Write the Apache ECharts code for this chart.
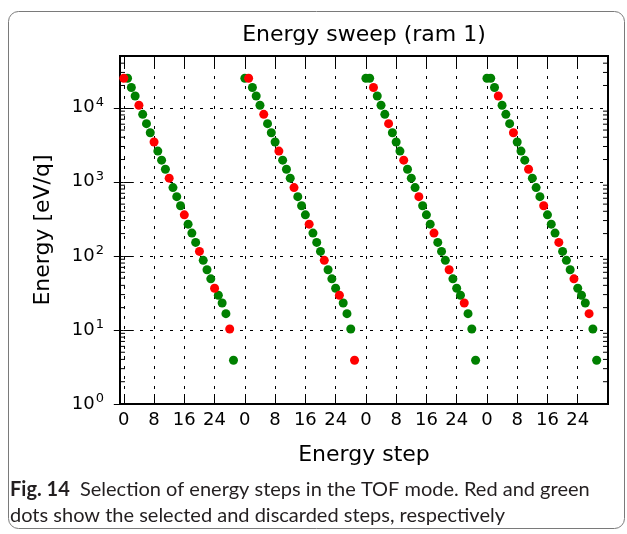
<!DOCTYPE html>
<html>
<head>
<meta charset="utf-8">
<script src="https://cdn.jsdelivr.net/npm/echarts@6/dist/echarts.min.js"></script>
<style>
  html, body { margin: 0; padding: 0; background: #fff; }
  #chart { width: 627px; height: 534px; }
</style>
</head>
<body>
<div id="chart"></div>
<script>
// energy of each step inside one sweep (eV/q), same table for all 4 sweeps
var energyTable = [25000, 25000, 18800, 14400, 10800, 8150, 6100, 4600, 3450, 2600,
  1960, 1480, 1120, 835, 630, 475, 358, 268, 203, 152,
  115, 87, 65, 49, 36.6, 29.4, 23.1, 16.6, 10.3, 3.9];
// first step number of each sweep
var sweepStarts = [0, 32, 64, 96];
// step index (inside the sweep) of the selected (red) steps
var selectedIdx = [
  [0, 4, 8, 12, 16, 20, 24, 28],
  [1, 5, 9, 13, 17, 21, 25, 29],
  [2, 6, 10, 14, 18, 22, 26],
  [3, 7, 11, 15, 19, 23, 27]
];
var xTickValues = [0, 8, 16, 24, 32, 40, 48, 56, 64, 72, 80, 88, 96, 104, 112, 120];
var xTickLabels = ['0', '8', '16', '24', '0', '8', '16', '24', '0', '8', '16', '24', '0', '8', '16', '24'];
var yTickValues = [1, 10, 100, 1000, 10000];
var yTickExps = ['0', '1', '2', '3', '4'];
var yMinorTicks = [2, 3, 4, 5, 6, 7, 8, 9, 20, 30, 40, 50, 60, 70, 80, 90,
  200, 300, 400, 500, 600, 700, 800, 900, 2000, 3000, 4000, 5000, 6000, 7000, 8000, 9000,
  20000, 30000, 40000];

var selectedPts = [];
var discardedPts = [];
sweepStarts.forEach(function (start, s) {
  energyTable.forEach(function (e, i) {
    if (selectedIdx[s].indexOf(i) >= 0) {
      selectedPts.push([start + i, e]);
    } else {
      discardedPts.push([start + i, e]);
    }
  });
});

var chart = echarts.init(document.getElementById('chart'));
var font = 'DejaVu Sans';
var dotted = { color: '#000', width: 1, type: [3, 7] };

var option = {
  animation: false,
  textStyle: { fontFamily: font },
  grid: {
    left: 120, right: 19, top: 56, bottom: 130,
    show: true, borderColor: '#000', borderWidth: 2
  },
  graphic: [
    {
      type: 'rect', silent: true, z: -10,
      shape: { x: 8.5, y: 11.5, width: 616, height: 517, r: 10 },
      style: { fill: 'none', stroke: '#7a7a7a', lineWidth: 1 }
    },
    {
      type: 'text', x: 364, y: 35,
      style: {
        text: 'Energy sweep (ram 1)', font: '22px ' + font,
        fill: '#000', textAlign: 'center', textVerticalAlign: 'middle'
      }
    },
    {
      type: 'text', x: 10, y: 490,
      style: {
        text: '{b|Fig. 14}  Selection of energy steps in the TOF mode. Red and green',
        font: '20px Lato', fill: '#231f20', textVerticalAlign: 'middle',
        rich: { b: { fontWeight: 'bold', fontSize: 20, fontFamily: 'Lato', fill: '#231f20' } }
      }
    },
    {
      type: 'text', x: 10, y: 516,
      style: {
        text: 'dots show the selected and discarded steps, respectively',
        font: '20px Lato', fill: '#231f20', textVerticalAlign: 'middle'
      }
    }
  ],
  xAxis: [
    {
      type: 'value', min: -1, max: 128, position: 'bottom',
      name: 'Energy step', nameLocation: 'middle', nameGap: 40,
      nameTextStyle: { fontSize: 22, color: '#000', fontFamily: font },
      axisLine: { show: false },
      axisTick: { show: true, inside: true, length: 10, customValues: xTickValues,
        lineStyle: { color: '#000', width: 1 } },
      axisLabel: {
        customValues: xTickValues, margin: 7, fontSize: 18, color: '#000', fontFamily: font,
        formatter: function (v) { return xTickLabels[xTickValues.indexOf(v)]; }
      },
      splitLine: { show: true, lineStyle: dotted }
    },
    {
      type: 'value', min: -1, max: 128, position: 'top',
      axisLine: { show: false },
      axisTick: { show: true, inside: true, length: 10, customValues: xTickValues,
        lineStyle: { color: '#000', width: 1 } },
      axisLabel: { show: false },
      splitLine: { show: false }
    }
  ],
  yAxis: [
    {
      type: 'log', logBase: 10, min: 1, max: 50000, position: 'left',
      name: 'Energy [eV/q]', nameLocation: 'middle', nameGap: 66, nameRotate: 90,
      nameTextStyle: { fontSize: 22, color: '#000', fontFamily: font },
      axisLine: { show: false },
      axisTick: { show: true, inside: true, length: 10, customValues: yTickValues,
        lineStyle: { color: '#000', width: 1 } },
      axisLabel: {
        customValues: yTickValues, margin: 16, color: '#000',
        formatter: function (v) {
          return '{b|10}{s|' + yTickExps[yTickValues.indexOf(v)] + '}';
        },
        rich: {
          b: { fontSize: 18, fontFamily: font, color: '#000' },
          s: { fontSize: 13, fontFamily: font, color: '#000', padding: [0, 0, 11, 1] }
        }
      },
      splitLine: { show: true, lineStyle: dotted }
    },
    {
      type: 'log', logBase: 10, min: 1, max: 50000, position: 'right',
      axisLine: { show: false },
      axisTick: { show: true, inside: true, length: 10, customValues: yTickValues,
        lineStyle: { color: '#000', width: 1 } },
      axisLabel: { show: false },
      splitLine: { show: false }
    }
  ],
  series: [
    {
      name: 'minor ticks', type: 'custom', silent: true, clip: false,
      data: yMinorTicks.map(function (v) { return [-1, v]; }),
      renderItem: function (params, api) {
        var l = api.coord([-1, api.value(1)]);
        var r = api.coord([128, api.value(1)]);
        var st = { stroke: '#000', lineWidth: 1 };
        return {
          type: 'group',
          children: [
            { type: 'line', shape: { x1: l[0], y1: l[1], x2: l[0] + 5, y2: l[1] }, style: st },
            { type: 'line', shape: { x1: r[0] - 5, y1: r[1], x2: r[0], y2: r[1] }, style: st }
          ]
        };
      }
    },
    {
      name: 'discarded', type: 'scatter', symbol: 'circle', symbolSize: 9,
      itemStyle: { color: '#008000', opacity: 1 },
      data: discardedPts
    },
    {
      name: 'selected', type: 'scatter', symbol: 'circle', symbolSize: 9,
      itemStyle: { color: '#ff0000', opacity: 1 },
      data: selectedPts
    }
  ]
};
chart.setOption(option);
</script>
</body>
</html>
